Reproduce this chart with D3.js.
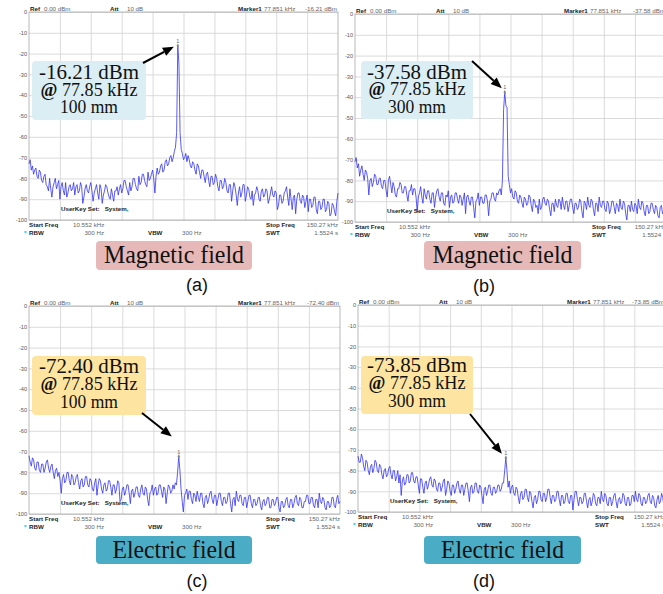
<!DOCTYPE html>
<html><head><meta charset="utf-8">
<script src="https://cdn.jsdelivr.net/npm/d3@7/dist/d3.min.js"></script>
<style>
body{margin:0;background:#fff}
svg{display:block}
</style>
</head><body>
<svg id="fig" width="663" height="594"></svg>
<script>
// Sweep settings shared by all four captures (kHz)
const startFreq = 10.552;
const stopFreq = 150.27;
const markerFreq = 77.851;
const peakIndex = 130;
const yTicks = [0, -10, -20, -30, -40, -50, -60, -70, -80, -90, -100];

// Measured traces (dBm per sweep point)
const traceA = [
 -73,-71,-76,-74,-78,-76,-75,-79,-80,-76,-77,-81,-82,-79,-78,-83,-84,-86,-80,-85,
 -89,-84,-82,-80,-85,-83,-81,-90,-84,-82,-86,-88,-82,-89,-87,-84,-83,-86,-85,-82,
 -88,-84,-83,-87,-86,-82,-84,-92,-89,-85,-83,-86,-87,-84,-82,-86,-91,-87,-85,-83,
 -87,-90,-83,-85,-92,-88,-86,-83,-84,-87,-89,-90,-85,-88,-91,-86,-86,-84,-88,-85,
 -83,-87,-85,-81,-81,-84,-86,-88,-82,-86,-84,-80,-80,-83,-85,-86,-79,-83,-82,-78,
 -78,-81,-83,-84,-77,-81,-80,-78,-76,-80,-87,-79,-75,-78,-77,-74,-73,-77,-76,-72,
 -71,-74,-73,-70,-69,-72,-70,-67,-65,-58,-16.21,-25,-58,-66,-68,-71,-70,-68,-72,-69,
 -71,-74,-75,-72,-73,-76,-78,-73,-74,-77,-80,-76,-76,-79,-82,-78,-77,-81,-84,-79,
 -79,-83,-82,-78,-80,-84,-86,-81,-81,-85,-84,-80,-82,-86,-87,-83,-83,-91,-86,-82,
 -84,-88,-93,-87,-84,-89,-87,-83,-83,-91,-88,-84,-85,-89,-90,-86,-93,-88,-87,-84,
 -86,-90,-91,-86,-85,-89,-88,-85,-86,-92,-90,-87,-84,-88,-89,-86,-87,-95,-93,-88,
 -88,-92,-91,-87,-86,-84,-89,-93,-85,-90,-95,-89,-88,-97,-90,-87,-87,-91,-92,-88,
 -89,-94,-91,-88,-96,-90,-90,-94,-93,-89,-89,-95,-97,-91,-91,-95,-94,-90,-90,-96,
 -95,-91,-92,-98,-97,-92,-93,-96,-98,-91,-87];
const traceB = [
 -71,-69,-74,-72,-78,-75,-73,-77,-80,-75,-76,-79,-87,-80,-79,-83,-81,-77,-78,-82,
 -82,-79,-79,-83,-84,-80,-80,-85,-88,-80,-78,-82,-86,-81,-83,-87,-88,-84,-84,-81,
 -82,-86,-86,-83,-83,-87,-90,-85,-85,-82,-87,-84,-84,-88,-95,-88,-86,-83,-88,-91,
 -84,-87,-89,-85,-85,-89,-91,-86,-86,-93,-88,-85,-84,-88,-90,-86,-86,-91,-92,-87,
 -88,-85,-93,-88,-87,-91,-90,-86,-86,-89,-91,-87,-88,-92,-89,-86,-96,-88,-87,-90,
 -92,-88,-88,-93,-98,-90,-89,-86,-92,-88,-88,-91,-91,-87,-87,-90,-97,-90,-89,-86,
 -86,-89,-90,-86,-87,-85,-84,-87,-80,-46,-37.58,-44,-45,-78,-82,-86,-84,-88,-89,-85,
 -86,-90,-91,-87,-88,-91,-93,-88,-89,-92,-91,-87,-88,-92,-95,-89,-90,-93,-92,-96,
 -89,-94,-93,-89,-88,-91,-92,-89,-90,-94,-97,-91,-91,-95,-89,-92,-93,-89,-90,-94,
 -88,-92,-94,-90,-90,-95,-92,-89,-89,-93,-96,-91,-91,-94,-93,-89,-90,-95,-98,-90,
 -91,-94,-88,-92,-93,-89,-90,-94,-97,-91,-91,-95,-88,-92,-93,-90,-90,-94,-95,-90,
 -91,-96,-94,-90,-90,-93,-96,-91,-92,-95,-89,-93,-94,-90,-91,-96,-99,-92,-92,-95,
 -90,-94,-95,-91,-92,-96,-89,-93,-94,-90,-91,-95,-97,-92,-92,-96,-95,-91,-91,-94,
 -96,-92,-93,-97,-98,-93,-92,-96,-95,-91,-93];
const traceC = [
 -72,-75,-77,-73,-74,-78,-79,-75,-75,-79,-80,-76,-76,-80,-78,-75,-74,-78,-80,-77,
 -76,-80,-83,-79,-78,-82,-80,-84,-90,-83,-81,-85,-84,-80,-80,-84,-86,-81,-82,-86,
 -85,-82,-81,-85,-88,-84,-83,-87,-86,-82,-82,-86,-87,-83,-84,-88,-89,-85,-83,-91,
 -86,-83,-84,-88,-90,-86,-85,-89,-88,-84,-84,-87,-91,-86,-86,-90,-88,-84,-85,-94,
 -93,-88,-87,-91,-89,-86,-86,-90,-95,-89,-88,-92,-90,-87,-87,-91,-92,-88,-86,-90,
 -91,-87,-88,-93,-96,-90,-89,-86,-91,-88,-87,-91,-90,-86,-86,-89,-92,-87,-88,-95,
 -90,-86,-87,-90,-89,-86,-88,-85,-86,-80,-72.40,-79,-88,-94,-99,-91,-90,-88,-93,-89,
 -89,-93,-95,-90,-91,-94,-89,-92,-94,-90,-90,-95,-97,-92,-91,-95,-93,-90,-89,-93,
 -95,-91,-91,-96,-93,-90,-90,-94,-96,-92,-92,-95,-94,-90,-90,-95,-99,-93,-92,-96,
 -89,-93,-94,-91,-91,-95,-96,-92,-92,-97,-94,-91,-91,-95,-97,-93,-93,-96,-95,-92,
 -92,-96,-98,-94,-93,-96,-95,-92,-92,-97,-97,-93,-93,-96,-95,-92,-92,-97,-99,-94,
 -94,-97,-96,-93,-92,-96,-97,-93,-93,-97,-95,-92,-91,-95,-96,-92,-93,-97,-97,-94,
 -94,-91,-91,-95,-95,-92,-92,-96,-97,-93,-93,-97,-90,-94,-95,-92,-93,-97,-98,-94,
 -94,-97,-96,-92,-92,-96,-97,-93,-91,-95,-94];
const traceD = [
 -73,-76,-76,-72,-74,-78,-80,-75,-76,-80,-82,-78,-77,-81,-79,-75,-76,-80,-81,-77,
 -78,-82,-84,-80,-79,-83,-82,-79,-78,-82,-84,-80,-80,-85,-83,-80,-86,-82,-92,-85,
 -83,-87,-86,-82,-82,-86,-85,-81,-81,-85,-86,-83,-83,-87,-91,-84,-84,-88,-91,-86,
 -85,-89,-87,-84,-83,-87,-88,-84,-85,-89,-90,-86,-86,-90,-88,-85,-84,-92,-89,-85,
 -86,-90,-92,-87,-87,-91,-89,-86,-85,-89,-91,-87,-87,-92,-89,-86,-86,-90,-95,-88,
 -87,-91,-90,-86,-86,-90,-91,-87,-88,-92,-96,-89,-88,-92,-90,-87,-87,-91,-92,-88,
 -88,-91,-90,-87,-87,-90,-89,-86,-86,-80,-73.85,-80,-88,-85,-91,-88,-87,-91,-92,-88,
 -89,-93,-96,-91,-90,-94,-93,-89,-89,-93,-95,-90,-91,-95,-98,-93,-92,-96,-94,-90,
 -90,-94,-95,-91,-91,-95,-93,-89,-89,-93,-96,-92,-92,-95,-94,-90,-90,-94,-97,-92,
 -92,-96,-95,-91,-91,-95,-96,-92,-92,-99,-94,-90,-90,-94,-97,-93,-93,-96,-95,-91,
 -91,-95,-98,-94,-93,-97,-95,-91,-92,-96,-97,-93,-93,-96,-90,-94,-95,-91,-92,-96,
 -97,-93,-93,-97,-95,-92,-91,-95,-98,-94,-93,-96,-95,-91,-92,-96,-97,-93,-93,-97,
 -96,-92,-92,-95,-90,-94,-95,-91,-92,-96,-97,-93,-93,-96,-95,-92,-91,-95,-96,-92,
 -93,-97,-98,-94,-92,-96,-95,-91,-93,-97,-96];

const traces = [traceA, traceB, traceC, traceD];
const distances = ["100 mm", "300 mm", "100 mm", "300 mm"];
const fieldLabels = ["Magnetic field", "Magnetic field", "Electric field", "Electric field"];
const panelLetters = ["(a)", "(b)", "(c)", "(d)"];

// Panel geometry and styling
const layout = [
  {x:29,  y:12,  w:309, h:208, box:{x:32, y:61, w:114, h:59, base:[79,96,113]},
   tail:[143,63], tip:[-4,1], note:"#dbeef4", tag:{x:96, y:241, w:156, h:29, base:263, fill:"#e6b9b8"}, letter:[197,291]},
  {x:355, y:14,  w:311, h:208, box:{x:361, y:61, w:112, h:58, base:[79,95,113]},
   tail:[472,61], tip:[-3,-4], note:"#dbeef4", tag:{x:424, y:241, w:157, h:29, base:263, fill:"#e6b9b8"}, letter:[484,292]},
  {x:29,  y:306, w:311, h:208, box:{x:32, y:356, w:114, h:59, base:[373,390,408]},
   tail:[142,413], tip:[-7,-20], note:"#fde4a0", tag:{x:96, y:536, w:156, h:28, base:558, fill:"#4bacc6"}, letter:[197,587]},
  {x:358, y:305, w:307, h:207, box:{x:361, y:356, w:112, h:58, base:[372,389,407]},
   tail:[470,414], tip:[-4,-4], note:"#fde4a0", tag:{x:424, y:536, w:157, h:28, base:558, fill:"#4bacc6"}, letter:[484,587]}
];

const svg = d3.select("#fig");
const sans = "'Liberation Sans', Arial, sans-serif";
const serif = "'Liberation Serif', 'Times New Roman', serif";
const fmt = v => v.toFixed(2);

traces.forEach((trace, k) => {
  const L = layout[k];
  const n = trace.length;
  const stepF = (stopFreq - startFreq) / (n - 1);
  const x = d3.scaleLinear().domain([startFreq, stopFreq]).range([L.x, L.x + L.w]);
  const y = d3.scaleLinear().domain([0, -100]).range([L.y, L.y + L.h]);
  const div = d3.scaleLinear().domain([0, 10]).range([L.x, L.x + L.w]);
  const g = svg.append("g");

  g.append("rect").attr("x", L.x).attr("y", L.y).attr("width", L.w).attr("height", L.h)
    .attr("fill", "#fff");

  // horizontal grid + level labels
  const ya = g.append("g").attr("transform", `translate(${L.x},0)`)
    .call(d3.axisLeft(y).tickValues(yTicks).tickSize(-L.w).tickPadding(2));
  ya.select(".domain").remove();
  ya.selectAll("line").attr("stroke", "#d2d2d2").attr("stroke-width", 0.8);
  ya.selectAll("text").attr("font-family", sans).attr("font-size", 5.6).attr("fill", "#555")
    .text(d => d === 0 ? "0" : "-" + Math.abs(d));

  // vertical grid (10 divisions)
  const xa = g.append("g").attr("transform", `translate(0,${L.y + L.h})`)
    .call(d3.axisBottom(div).tickValues(d3.range(1, 10)).tickSize(-L.h).tickFormat(""));
  xa.select(".domain").remove();
  xa.selectAll("line").attr("stroke", "#d2d2d2").attr("stroke-width", 0.8);

  g.append("rect").attr("x", L.x).attr("y", L.y).attr("width", L.w).attr("height", L.h)
    .attr("fill", "none").attr("stroke", "#a8a8a8").attr("stroke-width", 0.8);

  // trace
  const line = d3.line().x((d, i) => x(startFreq + i * stepF)).y(d => y(d));
  g.append("path").datum(trace).attr("d", line).attr("fill", "none")
    .attr("stroke", "#3434f4").attr("stroke-width", 0.9).attr("stroke-linejoin", "round")
    .attr("opacity", 0.9);

  // marker
  const level = trace[peakIndex];
  const px = x(markerFreq), py = y(level);
  g.append("path").attr("d", d3.symbol(d3.symbolDiamond, 6)()).attr("transform", `translate(${px},${py})`)
    .attr("fill", "#888");
  g.append("text").attr("x", px).attr("y", py - 3).attr("text-anchor", "middle")
    .attr("font-family", sans).attr("font-size", 5.5).attr("fill", "#666").text("1");

  // header line
  const small = (tx, ty, s, bold, anchor) => g.append("text").attr("x", tx).attr("y", ty)
    .attr("font-family", sans).attr("font-size", 6.2).attr("font-weight", bold ? "bold" : "normal")
    .attr("fill", bold ? "#222" : "#666").attr("text-anchor", anchor || "start").text(s);
  const hy = L.y - 1;
  small(L.x + 1, hy, "Ref", true);
  small(L.x + 15, hy, "0.00 dBm");
  small(L.x + 81, hy, "Att", true);
  small(L.x + 98, hy, "10 dB");
  small(L.x + 209, hy, "Marker1", true);
  small(L.x + 235, hy, markerFreq.toFixed(3) + " kHz");
  small(L.x + L.w - 1, hy, fmt(level) + " dBm", false, "end");

  // footer lines
  const b1 = L.y + L.h + 7, b2 = L.y + L.h + 14.5;
  small(L.x, b1, "Start Freq", true);
  small(L.x + 44, b1, startFreq.toFixed(3) + " kHz");
  small(L.x + 237, b1, "Stop Freq", true);
  small(L.x + L.w, b1, stopFreq.toFixed(2) + " kHz", false, "end");
  g.append("rect").attr("x", L.x - 4.5).attr("y", b2 - 3.5).attr("width", 2).attr("height", 2).attr("fill", "#3cd6f0");
  small(L.x, b2, "RBW", true);
  small(L.x + 75, b2, "300 Hz", false, "end");
  small(L.x + 119, b2, "VBW", true);
  small(L.x + 153, b2, "300 Hz");
  small(L.x + 237, b2, "SWT", true);
  small(L.x + L.w, b2, "1.5524 s", false, "end");
  g.append("text").attr("x", L.x + 32).attr("y", L.y + L.h - 9).attr("font-family", sans)
    .attr("font-size", 6.2).attr("font-weight", "bold").attr("fill", "#222")
    .attr("xml:space", "preserve").text("UserKey Set:   System,");

  // annotation box
  const B = L.box, cx = B.x + B.w / 2;
  g.append("rect").attr("x", B.x).attr("y", B.y).attr("width", B.w).attr("height", B.h)
    .attr("rx", 4).attr("fill", L.note);
  const big = (ty, size, len) => g.append("text").attr("x", cx).attr("y", ty).attr("text-anchor", "middle")
    .attr("font-family", serif).attr("font-size", size).attr("fill", "#111")
    .attr("textLength", len).attr("lengthAdjust", "spacingAndGlyphs");
  big(B.base[0], 20, 100).text(fmt(level) + " dBm");
  const t2 = big(B.base[1], 18, 97);
  t2.append("tspan").attr("font-weight", "bold").text("@");
  t2.append("tspan").text(" " + (Math.round(markerFreq * 100) / 100).toFixed(2) + " kHz");
  big(B.base[2], 18, 58).text(distances[k]);

  // arrow from box to peak
  const tx = px + L.tip[0], ty = py + L.tip[1];
  const [sx, sy] = L.tail;
  const ang = Math.atan2(ty - sy, tx - sx);
  const hl = 11, hw = 4.5;
  const bx = tx - hl * Math.cos(ang), by = ty - hl * Math.sin(ang);
  g.append("line").attr("x1", sx).attr("y1", sy).attr("x2", bx).attr("y2", by)
    .attr("stroke", "#000").attr("stroke-width", 2);
  g.append("path").attr("d", `M${tx},${ty}L${bx + hw * Math.sin(ang)},${by - hw * Math.cos(ang)}L${bx - hw * Math.sin(ang)},${by + hw * Math.cos(ang)}Z`)
    .attr("fill", "#000");

  // field label and panel letter
  const T = L.tag;
  g.append("rect").attr("x", T.x).attr("y", T.y).attr("width", T.w).attr("height", T.h)
    .attr("rx", 4).attr("fill", T.fill);
  g.append("text").attr("x", T.x + T.w / 2).attr("y", T.base).attr("text-anchor", "middle")
    .attr("font-family", serif).attr("font-size", 25).attr("fill", "#111")
    .attr("textLength", fieldLabels[k] === "Magnetic field" ? 140 : 123).attr("lengthAdjust", "spacingAndGlyphs")
    .text(fieldLabels[k]);
  g.append("text").attr("x", L.letter[0]).attr("y", L.letter[1]).attr("text-anchor", "middle")
    .attr("font-family", sans).attr("font-size", 18).attr("fill", "#111").text(panelLetters[k]);
});
</script>
</body></html>
